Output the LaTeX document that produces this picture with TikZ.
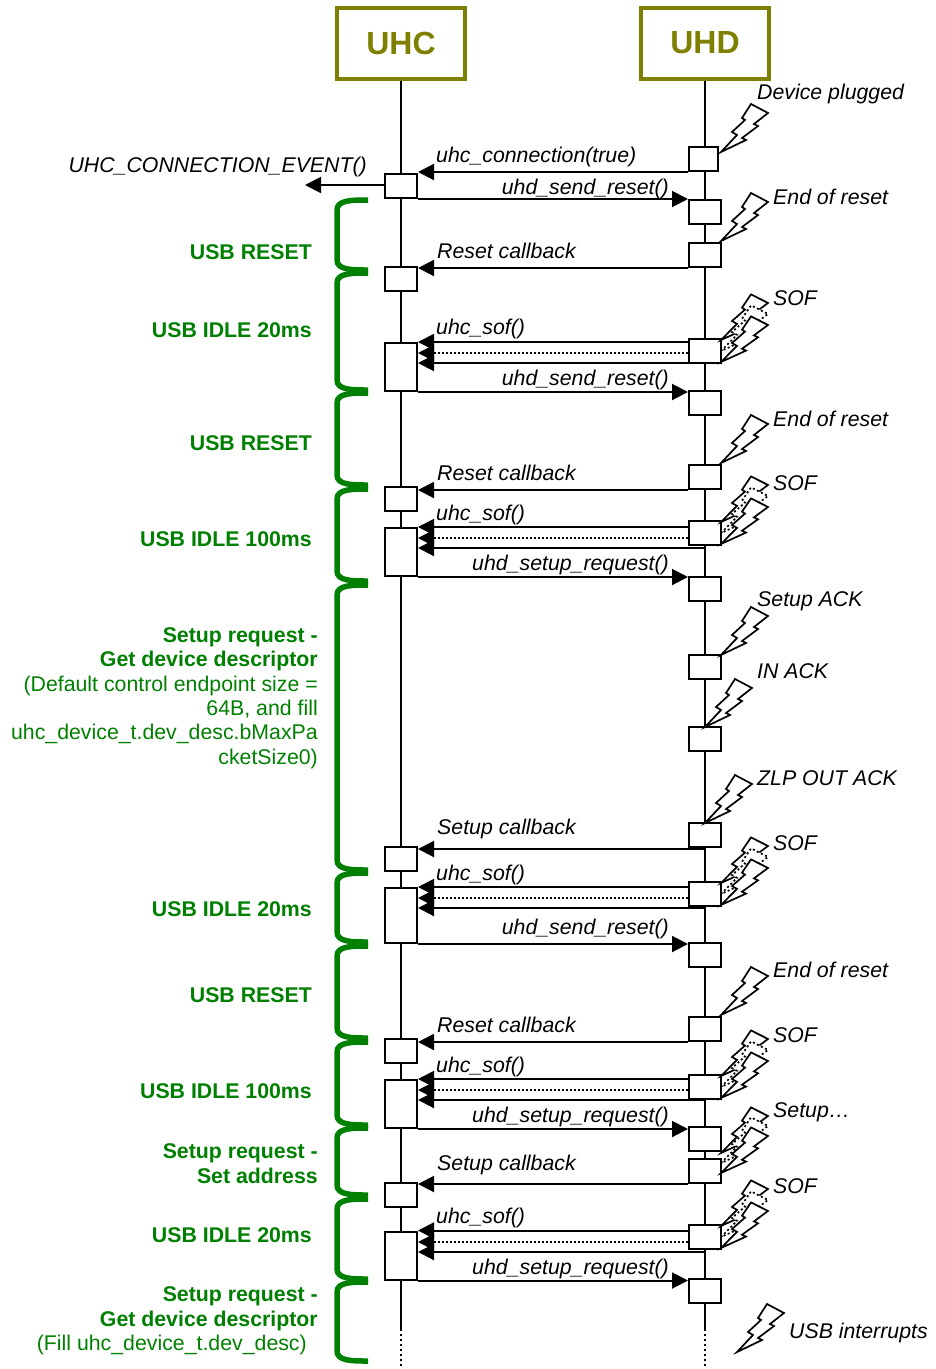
\documentclass[tikz,border=0pt]{standalone}
\usepackage{fontspec}
\setmainfont{Liberation Sans}
\usepackage{xcolor}
\usetikzlibrary{arrows.meta, positioning, calc}
\definecolor{cHead}{RGB}{128,128,0}
\definecolor{cGreen}{RGB}{0,128,0}
\tikzset{
	head/.style    ={rectangle, draw=cHead, line width=4pt, minimum width=128pt, minimum height=71pt, inner sep=0pt, text=cHead, font=\fontsize{32}{36}\selectfont\bfseries},
	act/.style     ={rectangle, draw=black, line width=2pt, fill=white, minimum width=32pt, minimum height=24pt, inner sep=0pt},
	actbig/.style  ={act, minimum height=48pt},
	life/.style    ={line width=2pt},
	lifeend/.style ={line width=1.5pt, dash pattern=on 2pt off 3pt},
	msg/.style     ={-{Triangle[length=16pt, width=16pt]}, line width=2pt},
	msgdot/.style  ={msg, dash pattern=on 2pt off 2pt},
	boltline/.style={draw=black, line width=1.7pt, fill=white},
	boltdot/.style ={boltline, dash pattern=on 2pt off 2.5pt},
	lbl/.style     ={font=\fontsize{21.3}{24.4}\selectfont\itshape, inner sep=0pt},
	phase/.style   ={font=\fontsize{21.3}{24.4}\selectfont\bfseries, text=cGreen, inner sep=0pt},
	note/.style    ={font=\fontsize{21.3}{24.4}\selectfont, text=cGreen, inner sep=0pt, align=right},
	brc/.style     ={draw=cGreen, line width=5.5pt},
	bolt/.pic={
		\path[pic actions] (0,0) -- (16,-17) -- (11,-20) -- (24,-32) -- (21,-34) -- (30,-48) -- (47,-39) -- (33,-28) -- (37,-26) -- (21,-14) -- (25,-12) -- cycle;
	},
}
% curly bracket of one USB phase
\newcommand{\phasebrc}[2]{
	\draw[brc] (368,#1) .. controls (352,#1) and (337,#1) .. (337,#1+10) -- (337,#2-10) .. controls (337,#2) and (352,#2) .. (368,#2);
}
% two plain bolts and a dotted one between them
\newcommand{\boltburst}[3]{
	\pic[boltline, yscale=0.95] at (721,#1) {bolt};
	\pic[boltdot, yscale=0.95] at (721,#2) {bolt};
	\pic[boltline, yscale=0.95] at (721,#3) {bolt};
}
\begin{document}
\begin{tikzpicture}[x=1pt, y=-1pt]
	\useasboundingbox (0,0) rectangle (936,1369);
	% lifelines
	\node[head] (uhc) at (401,43) {UHC};
	\node[head] (uhd) at (705,43) {UHD};
	\coordinate (uhcEnd) at (401,1329);
	\coordinate (uhdEnd) at (705,1329);
	\coordinate (uhcStop) at (401,1369);
	\coordinate (uhdStop) at (705,1369);
	\draw[life] (uhc) -- (uhcEnd);
	\draw[life] (uhd) -- (uhdEnd);
	\draw[lifeend] (uhcEnd) -- (uhcStop);
	\draw[lifeend] (uhdEnd) -- (uhdStop);
	% UHC boxes
	\node[act] (c1) at (401,186) {};
	\node[act] (c2) at (401,279) {};
	\node[actbig] (c3) at (401,367) {};
	\node[act] (c4) at (401,499) {};
	\node[actbig] (c5) at (401,552) {};
	\node[act] (c6) at (401,859) {};
	\node[actbig, minimum height=55pt] (c7) at (401,915.5) {};
	\node[act] (c8) at (401,1051) {};
	\node[actbig] (c9) at (401,1104) {};
	\node[act] (c10) at (401,1195) {};
	\node[actbig] (c11) at (401,1255.5) {};
	% UHD boxes
	\node[act, minimum width=29pt] (d1) at (703.5,159) {};
	\node[act] (d2) at (705,212) {};
	\node[act] (d3) at (705,255) {};
	\node[act] (d4) at (705,351) {};
	\node[act] (d5) at (705,403) {};
	\node[act] (d6) at (705,477) {};
	\node[act] (d7) at (705,533) {};
	\node[act] (d8) at (705,589) {};
	\node[act] (d9) at (705,667) {};
	\node[act] (d10) at (705,739) {};
	\node[act] (d11) at (705,835) {};
	\node[act] (d12) at (705,894) {};
	\node[act] (d13) at (705,955) {};
	\node[act] (d14) at (705,1029) {};
	\node[act] (d15) at (705,1087) {};
	\node[act] (d16) at (705,1139) {};
	\node[act] (d17) at (705,1171) {};
	\node[act] (d18) at (705,1237) {};
	\node[act] (d19) at (705,1291) {};
	% message levels
	\coordinate (ev) at (305,185);
	\coordinate (evA) at (385,185);
	\coordinate (sa1) at (705,353);
	\coordinate (sb1) at (705,363);
	\coordinate (sa2) at (705,538);
	\coordinate (sb2) at (705,548);
	\coordinate (sa3) at (705,898);
	\coordinate (sb3) at (705,908);
	\coordinate (sa4) at (705,1090);
	\coordinate (sb4) at (705,1100);
	\coordinate (sa5) at (705,1242);
	\coordinate (sb5) at (705,1252);
	\coordinate (cb1) at (705,849);
	% messages
	\draw[msg] (evA) -- (ev);
	\draw[msg] (d1.south west) -- (d1.south west -| c1.east);
	\draw[msg] (d2.north west -| c1.east) -- (d2.north west);
	\draw[msg] (d3.south west) -- (d3.south west -| c2.east);
	\draw[msg] (c3.north east -| d4.west) -- (c3.north east);
	\draw[msgdot] (sa1 -| d4.west) -- (sa1 -| c3.east);
	\draw[msg] (sb1) -- (sb1 -| c3.east);
	\draw[msg] (c3.south east) -- (c3.south east -| d5.west);
	\draw[msg] (d6.south west) -- (d6.south west -| c4.east);
	\draw[msg] (c5.north east -| d7.west) -- (c5.north east);
	\draw[msgdot] (sa2 -| d7.west) -- (sa2 -| c5.east);
	\draw[msg] (sb2) -- (sb2 -| c5.east);
	\draw[msg] (c5.south east) -- (c5.south east -| d8.west);
	\draw[msg] (cb1) -- (cb1 -| c6.east);
	\draw[msg] (c7.north east -| d12.west) -- (c7.north east);
	\draw[msgdot] (sa3 -| d12.west) -- (sa3 -| c7.east);
	\draw[msg] (sb3) -- (sb3 -| c7.east);
	\draw[msg] (c7.south east) -- (c7.south east -| d13.west);
	\draw[msg] (d14.south west) -- (d14.south west -| c8.east);
	\draw[msg] (c9.north east -| d15.west) -- (c9.north east);
	\draw[msgdot] (sa4 -| d15.west) -- (sa4 -| c9.east);
	\draw[msg] (sb4) -- (sb4 -| c9.east);
	\draw[msg] (c9.south east) -- (c9.south east -| d16.west);
	\draw[msg] (d17.south west) -- (d17.south west -| c10.east);
	\draw[msg] (c11.north east -| d18.west) -- (c11.north east);
	\draw[msgdot] (sa5 -| d18.west) -- (sa5 -| c11.east);
	\draw[msg] (sb5) -- (sb5 -| c11.east);
	\draw[msg] (c11.south east) -- (c11.south east -| d19.west);
	% interrupts
	\pic[boltline] at (721,152) {bolt};
	\pic[boltline] at (721,241) {bolt};
	\boltburst{340}{351}{362}
	\pic[boltline] at (721,463) {bolt};
	\boltburst{522}{533}{544}
	\pic[boltline] at (721,655) {bolt};
	\pic[boltline] at (705,727) {bolt};
	\pic[boltline] at (705,823) {bolt};
	\boltburst{883}{894}{905}
	\pic[boltline] at (721,1015) {bolt};
	\boltburst{1076}{1087}{1098}
	\boltburst{1153}{1163}{1173}
	\boltburst{1226}{1237}{1248}
	\pic[boltline] at (737,1352) {bolt};
	% phase brackets
	\phasebrc{200}{270}
	\phasebrc{273}{390}
	\phasebrc{393}{485}
	\phasebrc{489}{581}
	\phasebrc{585}{870}
	\phasebrc{873}{942}
	\phasebrc{946}{1038}
	\phasebrc{1042}{1125}
	\phasebrc{1128}{1195}
	\phasebrc{1199}{1279}
	\phasebrc{1282}{1361}
	% message labels
	\node[lbl, anchor=base east] (t0) at (367,172) {UHC\_CONNECTION\_EVENT()};
	\node[lbl, anchor=base west] (t1) at (757,99) {Device plugged};
	\node[lbl, anchor=base west] (t2) at (436,162) {uhc\_connection(true)};
	\node[lbl, anchor=base east] (t3) at (669,194) {uhd\_send\_reset()};
	\node[lbl, anchor=base west] (t4) at (773,204) {End of reset};
	\node[lbl, anchor=base west] (t5) at (437,258) {Reset callback};
	\node[lbl, anchor=base west] (t6) at (773,305) {SOF};
	\node[lbl, anchor=base west] (t7) at (436,334) {uhc\_sof()};
	\node[lbl, anchor=base east] (t8) at (669,385) {uhd\_send\_reset()};
	\node[lbl, anchor=base west] (t9) at (773,426) {End of reset};
	\node[lbl, anchor=base west] (t10) at (437,480) {Reset callback};
	\node[lbl, anchor=base west] (t11) at (773,490) {SOF};
	\node[lbl, anchor=base west] (t12) at (436,520) {uhc\_sof()};
	\node[lbl, anchor=base east] (t13) at (669,570) {uhd\_setup\_request()};
	\node[lbl, anchor=base west] (t14) at (757,606) {Setup ACK};
	\node[lbl, anchor=base west] (t15) at (757,678) {IN ACK};
	\node[lbl, anchor=base west] (t16) at (757,785) {ZLP OUT ACK};
	\node[lbl, anchor=base west] (t17) at (437,834) {Setup callback};
	\node[lbl, anchor=base west] (t18) at (773,850) {SOF};
	\node[lbl, anchor=base west] (t19) at (436,880) {uhc\_sof()};
	\node[lbl, anchor=base east] (t20) at (669,934) {uhd\_send\_reset()};
	\node[lbl, anchor=base west] (t21) at (773,977) {End of reset};
	\node[lbl, anchor=base west] (t22) at (437,1032) {Reset callback};
	\node[lbl, anchor=base west] (t23) at (773,1042) {SOF};
	\node[lbl, anchor=base west] (t24) at (436,1072) {uhc\_sof()};
	\node[lbl, anchor=base east] (t25) at (669,1122) {uhd\_setup\_request()};
	\node[lbl, anchor=base west] (t26) at (773,1117) {Setup…};
	\node[lbl, anchor=base west] (t27) at (437,1170) {Setup callback};
	\node[lbl, anchor=base west] (t28) at (773,1193) {SOF};
	\node[lbl, anchor=base west] (t29) at (436,1223) {uhc\_sof()};
	\node[lbl, anchor=base east] (t30) at (669,1274) {uhd\_setup\_request()};
	\node[lbl, anchor=base west] (t31) at (789,1338) {USB interrupts};
	% phase labels
	\node[phase, anchor=base east] (p1) at (312,259) {USB RESET};
	\node[phase, anchor=base east] (p2) at (312,337) {USB IDLE 20ms};
	\node[phase, anchor=base east] (p3) at (312,450) {USB RESET};
	\node[phase, anchor=base east] (p4) at (312,546) {USB IDLE 100ms};
	\node[note, anchor=east] (p5) at (318,698) {\textbf{Setup request -}\\ \textbf{Get device descriptor}\\ (Default control endpoint size =\\ 64B, and fill\\ uhc\_device\_t.dev\_desc.bMaxPa\\ cketSize0)};
	\node[phase, anchor=base east] (p6) at (312,916) {USB IDLE 20ms};
	\node[phase, anchor=base east] (p7) at (312,1002) {USB RESET};
	\node[phase, anchor=base east] (p8) at (312,1098) {USB IDLE 100ms};
	\node[note, anchor=east] (p9) at (318,1163.5) {\textbf{Setup request -}\\ \textbf{Set address}};
	\node[phase, anchor=base east] (p10) at (312,1242) {USB IDLE 20ms};
	\node[note, anchor=east] (p11) at (318,1321) {\textbf{Setup request -}\\ \textbf{Get device descriptor}\\ (Fill uhc\_device\_t.dev\_desc)\hspace*{11pt}};
\end{tikzpicture}
\end{document}
